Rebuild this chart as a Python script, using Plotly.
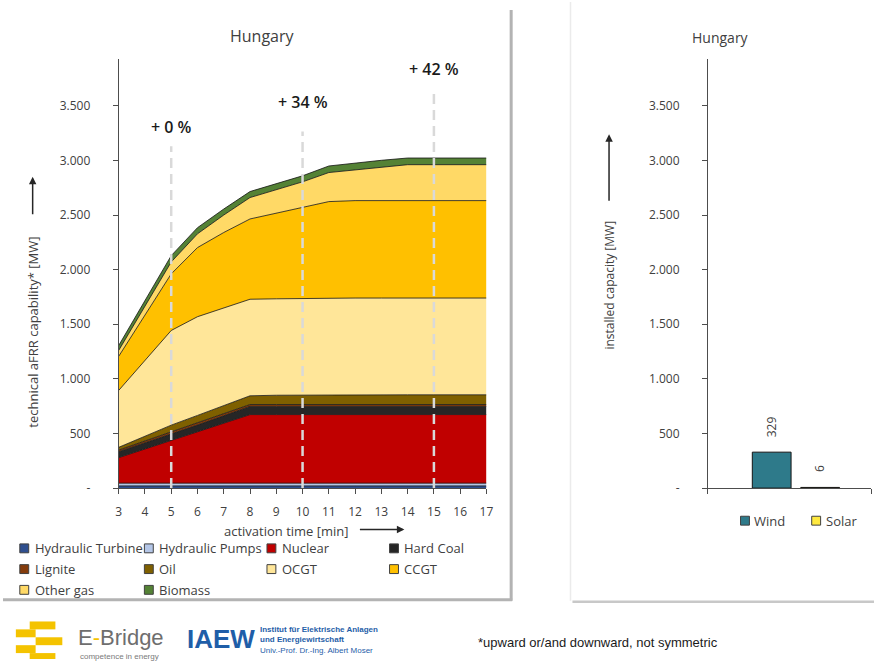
import plotly.graph_objects as go

W, H = 881, 668


def px(x):
    return x / W


def py(y):
    return 1 - y / H


# ---- technical aFRR capability by activation time (MW, stacked) ----
minutes = list(range(3, 18))
hydraulic_turbine = [20, 20, 20, 20, 20, 20, 20, 20, 20, 20, 20, 20, 20, 20, 20]
hydraulic_pumps = [25, 25, 25, 25, 25, 25, 25, 25, 25, 25, 25, 25, 25, 25, 25]
nuclear = [234, 314, 394, 472, 550, 628, 628, 628, 628, 628, 628, 628, 628, 628, 628]
hard_coal = [54, 53, 52, 60, 67, 75, 75, 75, 75, 75, 75, 75, 75, 75, 75]
lignite = [15, 18, 22, 20, 19, 17, 17, 17, 17, 17, 17, 17, 17, 17, 17]
oil = [25, 45, 63, 68, 73, 80, 85, 87, 89, 89, 89, 89, 89, 89, 89]
ocgt = [521, 693, 867, 904, 897, 884, 883, 885, 886, 886, 886, 886, 886, 886, 886]
ccgt = [312, 415, 518, 633, 689, 735, 785, 832, 883, 892, 892, 892, 892, 892, 892]
other_gas = [54, 80, 109, 126, 160, 196, 217, 235, 266, 281, 305, 329, 329, 329, 329]
biomass = [45, 50, 58, 56, 55, 55, 55, 55, 60, 64, 64, 61, 61, 61, 61]

technologies = ["Hydraulic Turbine", "Hydraulic Pumps", "Nuclear", "Hard Coal",
                "Lignite", "Oil", "OCGT", "CCGT", "Other gas", "Biomass"]
tech_values = [hydraulic_turbine, hydraulic_pumps, nuclear, hard_coal,
               lignite, oil, ocgt, ccgt, other_gas, biomass]
tech_colors = ["#2F4F8F", "#B4C6E7", "#C00000", "#262626", "#843C0C",
               "#7F6000", "#FFE699", "#FFC000", "#FFD966", "#548235"]

# reference activation times and the relative increase against the first one
marker_minutes = [5, 10, 15]

# ---- installed renewable capacity (MW) ----
renewables = ["Wind", "Solar"]
installed = [329, 6]
renew_colors = ["#2E7A8A", "#FFE93F"]

y_ticks = [0, 500, 1000, 1500, 2000, 2500, 3000, 3500]
y_ticktext = ["-" if v == 0 else f"{v:,}".replace(",", ".") for v in y_ticks]

FONT = "Open Sans"
TXT = "#404040"
AX = "#4d4d4d"

fig = go.Figure()

for name, vals, col in zip(technologies, tech_values, tech_colors):
    fig.add_trace(go.Scatter(
        x=minutes, y=vals, name=name, stackgroup="afrr", mode="lines",
        line=dict(color="#141414", width=0.8), fillcolor=col,
        showlegend=False, xaxis="x", yaxis="y",
        hovertemplate=name + ": %{y} MW<extra></extra>"))

fig.add_trace(go.Bar(
    x=list(range(len(renewables))), y=installed, width=0.8,
    marker=dict(color=renew_colors, line=dict(color="#141414", width=1)),
    showlegend=False, xaxis="x2", yaxis="y2",
    hovertemplate="%{y} MW<extra></extra>"))

y_dom = [py(494), py(60)]
y_range = [0, 3926]

fig.update_layout(
    width=W, height=H, margin=dict(l=0, r=0, t=0, b=0),
    paper_bgcolor="white", plot_bgcolor="rgba(0,0,0,0)",
    font=dict(family=FONT, color=TXT, size=12),
    xaxis=dict(domain=[px(117), px(489)], range=[3, 17], tickmode="array",
               tickvals=minutes, ticks="outside", ticklen=5, tickcolor=AX,
               showline=True, linecolor=AX, linewidth=1, showgrid=False,
               zeroline=False, tickfont=dict(size=12, color=TXT),
               ticklabelstandoff=8, anchor="y"),
    yaxis=dict(domain=y_dom, range=y_range, tickmode="array", tickvals=y_ticks,
               ticktext=y_ticktext, ticks="outside", ticklen=5, tickcolor=AX,
               showline=True, linecolor=AX, linewidth=1, showgrid=False,
               zeroline=False, tickfont=dict(size=12, color=TXT),
               ticklabelstandoff=20, anchor="x"),
    xaxis2=dict(domain=[px(713), px(878)], range=[-1.316, 2.05], tickmode="array",
                tickvals=[-1.316, 2.05], ticktext=["", ""], ticks="outside",
                ticklen=5, tickcolor=AX, showline=True, linecolor=AX, linewidth=1,
                showgrid=False, zeroline=False, anchor="y2"),
    yaxis2=dict(domain=y_dom, range=y_range, tickmode="array", tickvals=y_ticks,
                ticktext=y_ticktext, ticks="outside", ticklen=5, tickcolor=AX,
                showline=True, linecolor=AX, linewidth=1, showgrid=False,
                zeroline=False, tickfont=dict(size=12, color=TXT),
                ticklabelstandoff=20, anchor="x2"),
)

shapes = []
ann = []


def text_at(x, y, text, size=13, color=TXT, xanchor="center", family=None,
            angle=0, weight=None, align="center"):
    f = dict(size=size, color=color)
    if family:
        f["family"] = family
    if weight:
        f["weight"] = weight
    ann.append(dict(xref="paper", yref="paper", x=px(x), y=py(y), text=text,
                    showarrow=False, xanchor=xanchor, yanchor="middle",
                    textangle=angle, font=f, align=align))


def arrow(x_head, y_head, dx, dy):
    ann.append(dict(xref="paper", yref="paper", x=px(x_head), y=py(y_head), text="",
                    showarrow=True, ax=dx, ay=dy, arrowhead=2, arrowsize=1,
                    arrowwidth=1.5, arrowcolor="#262626"))


# relative increase markers
totals = [sum(v[i] for v in tech_values) for i in range(len(minutes))]
base_total = totals[minutes.index(marker_minutes[0])]
label_px = [129, 103, 70]
line_top_px = [148, 133, 90]
for m, ly, lt in zip(marker_minutes, label_px, line_top_px):
    i = minutes.index(m)
    pct = round((totals[i] / base_total - 1) * 100)
    shapes.append(dict(type="line", xref="x", yref="paper", x0=m, x1=m,
                       y0=py(494), y1=py(lt),
                       line=dict(color="#D9D9D9", width=2.5, dash="10px,6px")))
    ann.append(dict(xref="x", yref="paper", x=m, y=py(ly), text=f"+ {pct} %",
                    showarrow=False, xanchor="center", yanchor="middle",
                    font=dict(size=16, color="#1a1a1a", family=FONT, weight=600)))

# bar value labels
for i, v in enumerate(installed):
    ann.append(dict(xref="x2", yref="y2", x=i, y=v, text=str(v), textangle=-90,
                    showarrow=False, xanchor="center", yanchor="bottom", yshift=13,
                    font=dict(size=12, color=TXT)))

# titles
text_at(262, 36, "Hungary", size=16)
text_at(726, 38, "Hungary", size=14)

# axis titles with arrows
text_at(30, 336, "technical aFRR capability* [MW]", size=13, angle=-90)
arrow(30, 179, 0, 39)
text_at(287, 537, "activation time [min]", size=13)
arrow(406, 536, -46, 0)
text_at(614, 289, "installed capacity [MW]", size=12, angle=-90)
arrow(613, 136, 0, 68)

# legend of the stacked chart (4 columns)
cols = [17, 143, 267, 391]
rows = [555, 576, 597]
for k, (name, col) in enumerate(zip(technologies, tech_colors)):
    cx = cols[k % 4]
    cy = rows[k // 4]
    shapes.append(dict(type="rect", xref="paper", yref="paper",
                       x0=px(cx), x1=px(cx + 9), y0=py(cy + 4.5), y1=py(cy - 4.5),
                       fillcolor=col, line=dict(color="#404040", width=1)))
    text_at(cx + 13, cy, name, size=13, xanchor="left")

# legend of the bar chart
for name, col, cx in zip(renewables, renew_colors, [746, 818]):
    cy = 527
    shapes.append(dict(type="rect", xref="paper", yref="paper",
                       x0=px(cx), x1=px(cx + 9), y0=py(cy + 4.5), y1=py(cy - 4.5),
                       fillcolor=col, line=dict(color="#404040", width=1)))
    text_at(cx + 12, cy, name, size=13, xanchor="left")

# panel shadows
shadow = "#B3B3B3"
shapes.append(dict(type="line", xref="paper", yref="paper", x0=px(514), x1=px(514),
                   y0=py(10), y1=py(608), line=dict(color=shadow, width=3)))
shapes.append(dict(type="line", xref="paper", yref="paper", x0=px(0), x1=px(515),
                   y0=py(607), y1=py(607), line=dict(color=shadow, width=3)))
shapes.append(dict(type="line", xref="paper", yref="paper", x0=px(574), x1=px(574),
                   y0=py(2), y1=py(608), line=dict(color="#EBEBEB", width=1.5)))
shapes.append(dict(type="line", xref="paper", yref="paper", x0=px(576), x1=px(881),
                   y0=py(609), y1=py(609), line=dict(color="#C8C8C8", width=2.5)))

# E-Bridge logo
ebridge_yellow = "#F4C300"
for x0, y0, x1, y1 in [(27, 629, 53, 637), (13, 637, 33, 645), (33, 645, 60, 653),
                       (13, 653, 33, 661), (27, 661, 53, 667)]:
    shapes.append(dict(type="rect", xref="paper", yref="paper", x0=px(x0), x1=px(x1),
                       y0=py(y1), y1=py(y0), fillcolor=ebridge_yellow, line=dict(width=0)))
text_at(74, 645, "E<span style='color:#F4C300'>-</span>Bridge", size=22,
        color="#6E6E6E", xanchor="left", family="Liberation Sans")
text_at(76, 664, "competence in energy", size=8, color="#7A7A7A", xanchor="left",
        family="Liberation Sans")

# IAEW logo
iaew_blue = "#1F5EA8"
text_at(184, 647, "<b>IAEW</b>", size=26, color=iaew_blue, xanchor="left",
        family="Liberation Sans")
text_at(258, 648,
        "<b>Institut für Elektrische Anlagen</b><br><b>und Energiewirtschaft</b><br>"
        "Univ.-Prof. Dr.-Ing. Albert Moser",
        size=8, color=iaew_blue, xanchor="left", family="Liberation Sans", align="left")

# footnote
text_at(478, 650, "*upward or/and downward, not symmetric", size=13,
        color="#1a1a1a", xanchor="left", family="Liberation Sans")

fig.update_layout(shapes=shapes, annotations=ann)
fig.write_html("out.html")
